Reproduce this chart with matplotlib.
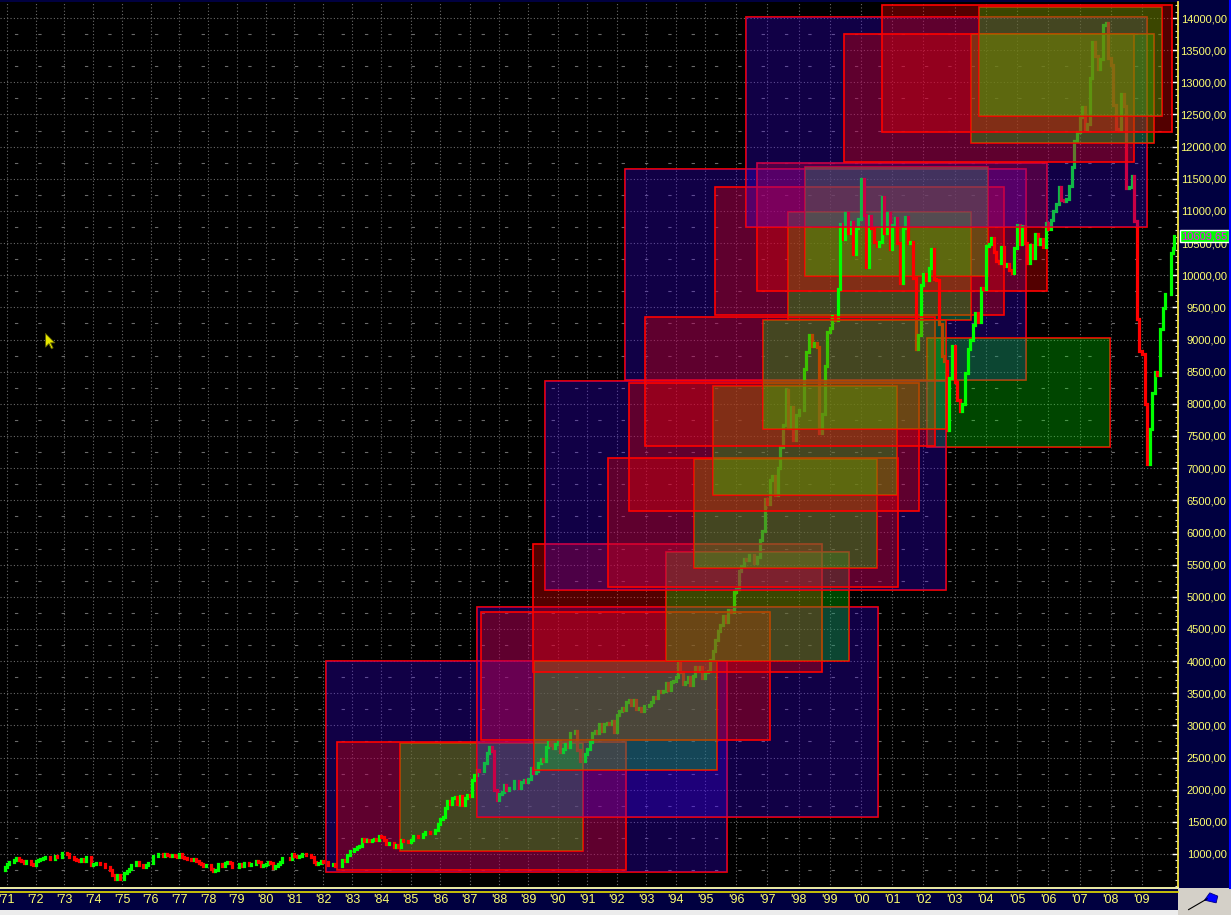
import numpy as np
import pandas as pd
import matplotlib
matplotlib.use("Agg")
import matplotlib.pyplot as plt
from matplotlib.patches import Rectangle, Polygon
from matplotlib.collections import LineCollection
from matplotlib.lines import Line2D
from matplotlib.path import Path
import matplotlib.transforms as mtransforms

plt.rcParams['font.family'] = ['Liberation Sans', 'DejaVu Sans']

# ---------------- data ----------------
# monthly closes of the index, Oct 1970 .. Dec 1979
dow_1970s = [755.6, 794.1, 838.9,
             868.5, 878.8, 904.4, 941.8, 907.8, 891.1, 858.4, 898.1, 887.2, 839.0, 831.3, 890.2,
             902.2, 928.1, 940.7, 954.2, 960.7, 929.0, 924.7, 963.7, 953.3, 956.0, 1018.2, 1020.0,
             999.0, 955.1, 951.0, 921.4, 901.4, 891.7, 926.4, 887.6, 947.1, 956.6, 822.3, 850.9,
             855.6, 860.5, 846.7, 836.8, 802.2, 802.4, 757.4, 678.6, 607.9, 665.5, 618.7, 616.2,
             703.7, 739.1, 768.2, 821.3, 832.3, 879.0, 831.5, 835.3, 793.9, 836.0, 860.7, 852.4,
             975.3, 972.6, 999.5, 996.9, 975.2, 1002.8, 984.6, 973.7, 990.2, 964.9, 947.2, 1004.7,
             954.4, 936.4, 919.1, 926.9, 898.7, 916.3, 890.1, 861.5, 847.1, 818.4, 829.7, 831.2,
             769.9, 742.1, 757.4, 837.3, 840.6, 818.9, 862.3, 876.8, 865.8, 792.5, 799.0, 805.0,
             839.2, 808.8, 862.2, 854.9, 822.3, 841.9, 846.4, 887.6, 878.6, 815.7, 822.4, 838.7]
dow_1980s = [875.9, 863.1, 785.8, 817.1, 850.9, 867.9, 935.3, 932.6, 932.4, 924.5, 993.3, 964.0,
             947.3, 974.6, 1003.9, 997.8, 991.8, 976.9, 952.3, 881.5, 850.0, 853.2, 889.0, 875.0,
             871.1, 824.4, 822.8, 848.4, 819.5, 811.9, 808.6, 901.3, 896.3, 991.7, 1039.3, 1046.5,
             1075.7, 1112.6, 1130.0, 1226.2, 1200.0, 1222.0, 1199.2, 1216.2, 1233.1, 1225.2, 1276.0, 1258.6,
             1220.6, 1154.6, 1164.9, 1170.8, 1104.9, 1132.4, 1115.3, 1224.4, 1206.7, 1207.4, 1188.9, 1211.6,
             1286.8, 1284.0, 1266.8, 1258.1, 1315.4, 1335.5, 1347.5, 1334.0, 1328.6, 1374.3, 1472.1, 1546.7,
             1570.9, 1709.1, 1818.6, 1783.9, 1876.7, 1892.7, 1775.3, 1898.3, 1767.6, 1877.8, 1914.2, 1896.0,
             2158.0, 2224.0, 2304.7, 2286.4, 2291.6, 2418.5, 2572.1, 2662.9, 2596.3, 1993.5, 1833.6, 1938.8,
             1958.2, 2071.6, 1988.1, 2032.3, 2031.1, 2141.7, 2128.7, 2031.7, 2112.9, 2148.7, 2114.5, 2168.6,
             2342.3, 2258.4, 2293.6, 2418.8, 2480.2, 2440.1, 2660.7, 2737.3, 2692.8, 2645.1, 2706.3, 2753.2]
dow_1990s = [2590.5, 2627.3, 2707.2, 2656.8, 2876.7, 2880.7, 2905.2, 2614.4, 2452.5, 2442.3, 2559.7, 2633.7,
             2736.4, 2882.2, 2913.9, 2887.9, 3027.5, 2906.8, 3024.8, 3043.6, 3016.8, 3069.1, 2895.0, 3168.8,
             3223.4, 3267.7, 3235.5, 3359.1, 3396.9, 3318.5, 3393.8, 3257.4, 3271.7, 3226.3, 3305.2, 3301.1,
             3310.0, 3370.8, 3435.1, 3427.6, 3527.4, 3516.1, 3539.5, 3651.3, 3555.1, 3680.6, 3683.9, 3754.1,
             3978.4, 3832.0, 3635.9, 3681.7, 3758.4, 3625.0, 3764.5, 3913.4, 3843.2, 3908.1, 3739.2, 3834.4,
             3843.9, 4011.1, 4157.7, 4321.3, 4465.1, 4556.1, 4708.5, 4610.6, 4789.1, 4755.5, 5074.5, 5117.1,
             5395.3, 5485.6, 5587.1, 5569.1, 5643.2, 5654.6, 5528.9, 5616.2, 5882.2, 6029.4, 6521.7, 6448.3,
             6813.1, 6877.7, 6583.5, 7009.0, 7331.0, 7672.8, 8222.6, 7622.4, 7945.3, 7442.1, 7823.1, 7908.3,
             7906.5, 8545.7, 8799.8, 9063.4, 8900.0, 8952.0, 8883.3, 7539.1, 7842.6, 8592.1, 9116.6, 9181.4,
             9358.8, 9306.6, 9786.2, 10789.0, 10559.7, 10970.8, 10655.2, 10829.3, 10336.9, 10729.9, 10877.8, 11497.1]
dow_2000s = [10940.5, 10128.3, 10921.9, 10733.9, 10522.3, 10447.9, 10521.9, 11215.1, 10650.9, 10971.1, 10414.5, 10787.0,
             10887.4, 10495.3, 9878.8, 10735.0, 10911.9, 10502.4, 10522.8, 9949.8, 8847.6, 9075.1, 9851.6, 10021.5,
             9920.0, 10106.1, 10403.9, 9946.2, 9925.3, 9243.3, 8736.6, 8663.5, 7591.9, 8397.0, 8896.1, 8341.6,
             8053.8, 7891.1, 7992.1, 8480.1, 8850.3, 8985.4, 9233.8, 9415.8, 9275.1, 9801.1, 9782.5, 10453.9,
             10488.1, 10583.9, 10357.7, 10225.6, 10188.5, 10435.5, 10139.7, 10173.9, 10080.3, 10027.5, 10428.0, 10783.0,
             10489.9, 10766.2, 10503.8, 10192.5, 10467.5, 10275.0, 10640.9, 10481.6, 10568.7, 10440.1, 10805.9, 10717.5,
             10864.9, 10993.4, 11109.3, 11367.1, 11168.3, 11150.2, 11185.7, 11381.2, 11679.1, 12080.7, 12221.9, 12463.2,
             12621.7, 12268.6, 12354.4, 13062.9, 13627.6, 13408.6, 13212.0, 13357.7, 13895.6, 13930.0, 13371.7, 13264.8,
             12650.4, 12266.4, 12262.9, 12820.1, 12638.3, 11350.0, 11378.0, 11543.6, 10850.7, 9325.0, 8829.0, 8776.4,
             8000.9, 7062.9, 7608.9, 8168.1, 8500.3, 8447.0, 9171.6, 9496.3, 9712.3, 9712.7, 10344.8, 10428.1]
first_month = '1970-10'
last_date = '2010-01-15'
last_close = 10609.65

# chart's own (bar-based) time axis: year -> horizontal position anchors
axis_knot_years = [1971, 1983, 1995, 2009]
axis_knot_pos = [7, 352, 705, 1142]

year_ticks = list(range(1971, 2010))
year_labels = ["'%02d" % (y % 100) for y in year_ticks]
price_levels = list(range(1000, 14001, 500))
price_labels = [("%.2f" % v).replace('.', ',') for v in price_levels]
half_levels = list(range(750, 14001, 500))
minor_levels = list(range(500, 14201, 100))

# projection boxes, in drawing order; first group sits under the price bars
box_kind  = ['B', 'R', 'G', 'B', 'R', 'G', 'R', 'G', 'G',
             'B', 'R', 'G', 'R', 'G', 'B', 'R', 'G', 'R', 'G', 'R', 'G', 'B', 'R', 'G', 'R', 'G']
box_start = [1982.10, 1982.48, 1984.63, 1992.27, 1995.32, 1997.66, 1996.67, 1998.21, 2002.12,
             1987.25, 1987.38, 1989.19, 1989.15, 1993.67, 1989.56, 1991.70, 1994.62, 1992.41, 1995.26,
             1992.96, 1996.86, 1996.31, 1999.46, 2003.52, 2000.67, 2003.78]
box_end   = [1995.70, 1992.31, 1990.85, 2005.29, 2004.58, 2003.52, 2005.96, 2004.07, 2007.98,
             2000.54, 1997.08, 1995.38, 1998.75, 1999.62, 2002.73, 2001.18, 2000.51, 2001.86, 2001.15,
             2002.37, 2002.73, 2009.17, 2008.75, 2009.39, 2009.97, 2009.65]
box_low   = [720, 751, 1047, 8371, 9382, 9304, 9755, 9988, 7329,
             1575, 2773, 2306, 3830, 4001, 5105, 5152, 5447, 6334, 6582,
             7344, 7609, 10750, 11761, 12056, 12227, 12476]
box_high  = [4000, 2742, 2726, 11652, 11372, 10983, 11745, 11683, 9024,
             4841, 4763, 4001, 5821, 5696, 8355, 7158, 7142, 8324, 8277,
             9350, 9304, 14015, 13751, 13751, 14202, 14171]
boxes_under_price = 9

cursor_at = (1972.32, 9102)

# ---------------- figure ----------------
W, H = 1231, 915
fig = plt.figure(figsize=(W / 100, H / 100), dpi=100, facecolor='#000040')
ax = fig.add_axes([0, 27 / H, 1178 / W, 886 / H])
ax.set_facecolor('black')

ky = np.array(axis_knot_years, float)
kp = np.array(axis_knot_pos, float)
s0 = (kp[1] - kp[0]) / (ky[1] - ky[0])
s1 = (kp[-1] - kp[-2]) / (ky[-1] - ky[-2])
ext_y = np.concatenate([[1900.0], ky, [2100.0]])
ext_p = np.concatenate([[kp[0] - s0 * (ky[0] - 1900)], kp, [kp[-1] + s1 * (2100 - ky[-1])]])


def fwd(x):
    return np.interp(np.asarray(x, float), ext_y, ext_p)


def inv(p):
    return np.interp(np.asarray(p, float), ext_p, ext_y)


ax.set_xscale('function', functions=(fwd, inv))
ax.set_xlim(inv(0), inv(1178))
ax.set_ylim(471, 14249)

# grid
ax.set_axisbelow(True)
ax.set_xticks(year_ticks)
ax.set_xticklabels(year_labels)
ax.set_yticks(price_levels)
ax.set_yticklabels(price_labels)
ax.set_yticks(minor_levels, minor=True)
ax.grid(True, which='major', color='#6a6a6a', linestyle=(0, (1, 2)), linewidth=0.8)
ax.hlines(half_levels, inv(0), inv(1178), colors='#6a6a6a', linestyles=(8, (3, 18)),
          linewidth=0.8, zorder=0.6)

fills = {'B': (64 / 255, 0, 1, 0.28), 'R': (1, 0, 0, 0.33), 'G': (0, 1, 0, 0.28)}


def draw_box(i):
    x0, x1, lo, hi = box_start[i], box_end[i], box_low[i], box_high[i]
    ax.add_patch(Rectangle((x0, lo), x1 - x0, hi - lo, fill=False, ec='#ff0000', lw=1.2, zorder=2))
    ax.add_patch(Rectangle((x0, lo), x1 - x0, hi - lo, fc=fills[box_kind[i]], ec='none', lw=0, zorder=2))


for i in range(boxes_under_price):
    draw_box(i)

# price bars (close-to-close)
closes = np.array(dow_1970s + dow_1980s + dow_1990s + dow_2000s + [last_close], float)
months = pd.period_range(first_month, periods=len(closes) - 1, freq='M').to_timestamp(how='end')
dates = months.append(pd.DatetimeIndex([pd.Timestamp(last_date)]))
t = np.asarray(dates.year + (dates.dayofyear - 0.5) / (365 + dates.is_leap_year.astype(int)), float)
segs = [[(t[i], closes[i - 1]), (t[i], closes[i])] for i in range(1, len(closes))]
cols = ['#00ff00' if closes[i] >= closes[i - 1] else '#ff0000' for i in range(1, len(closes))]
lc = LineCollection(segs, colors=cols, linewidths=2.3, capstyle='projecting', zorder=2)
ax.add_collection(lc)

for i in range(boxes_under_price, len(box_kind)):
    draw_box(i)

# spines / ticks
for s in ['top', 'left']:
    ax.spines[s].set_visible(False)
ax.spines['right'].set_color('#f0e040')
ax.spines['right'].set_linewidth(1.3)
ax.spines['bottom'].set_color('#ffffb0')
ax.spines['bottom'].set_linewidth(1.3)

ax.yaxis.tick_right()
ax.tick_params(axis='y', which='both', left=False, right=True, labelleft=False, labelright=True,
               direction='in')
ax.tick_params(axis='y', which='major', length=4, width=1, color='white', labelcolor='#ffff70',
               labelsize=8, pad=35)
ax.tick_params(axis='y', which='minor', length=2.5, width=0.8, color='#d8d8d8')
for tk in ax.yaxis.get_major_ticks():
    tk.label2.set_horizontalalignment('right')
ax.tick_params(axis='x', which='both', length=0, pad=4, labelcolor='#ffff70', labelsize=9)

# last price tag
ax.text(1.0 + 3 / 1178, last_close, ("%.2f" % last_close).replace('.', ','),
        transform=mtransforms.blended_transform_factory(ax.transAxes, ax.transData),
        ha='left', va='center', fontsize=8, color='#ff00ff', clip_on=False, zorder=10,
        bbox=dict(boxstyle='square,pad=0.12', fc='#00ff00', ec='white', lw=1))

# mouse cursor
cur = Path([(0, 0), (0, -16), (4, -12), (7, -18), (9, -17), (6, -11), (11, -11), (0, 0)],
           [Path.MOVETO] + [Path.LINETO] * 6 + [Path.CLOSEPOLY])
ax.plot([cursor_at[0]], [cursor_at[1]], marker=cur, ms=22, mfc='#e8e800', mec='#606000',
        mew=0.6, ls='none', zorder=10)

# frame details
fig.add_artist(Line2D([0, 1178 / W], [(915 - 892) / H] * 2, color='#e8e000', lw=1.2))
fig.add_artist(Line2D([1229.5 / W] * 2, [27 / H, 1], color='#0000ff', lw=1.5))
fig.add_artist(Rectangle((0, 0), 1178 / W, 5 / H, transform=fig.transFigure, fc='#ececec', ec='none'))
cax = fig.add_axes([1178 / W, 0, 53 / W, 27 / H])
cax.set_facecolor('#d4d0c8')
cax.set_xticks([])
cax.set_yticks([])
for s in cax.spines.values():
    s.set_visible(False)
cax.set_xlim(0, 1)
cax.set_ylim(0, 1)
cax.plot([0.2, 0.55], [0.2, 0.6], color='black', lw=0.8)
cax.add_patch(Polygon([(0.5, 0.55), (0.6, 0.82), (0.75, 0.7), (0.72, 0.45)], closed=True,
                      fc='#0000ff', ec='#000080', lw=0.6))

fig.savefig('out.png', dpi=100, facecolor=fig.get_facecolor())
